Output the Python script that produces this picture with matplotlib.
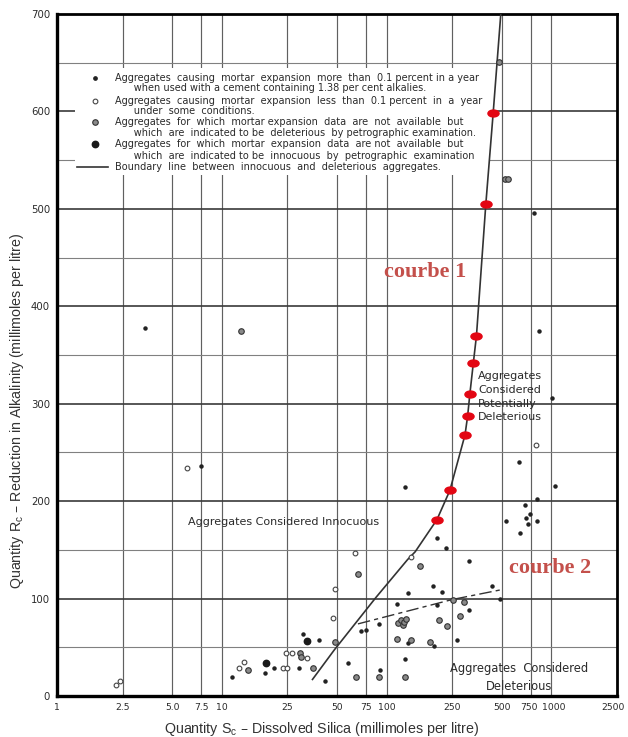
import matplotlib
matplotlib.use("Agg")
import matplotlib.pyplot as plt
from matplotlib.markers import MarkerStyle
from matplotlib.transforms import Affine2D, ScaledTranslation
from matplotlib.ticker import FixedLocator, NullLocator

# ---- data (S = dissolved silica, R = reduction in alkalinity) ----
boundary_s = [35.5, 48, 86, 134, 149, 202, 242, 299, 310, 320, 336, 351, 400, 443, 493]
boundary_r = [17, 47, 101, 140, 148, 181, 211, 268, 287, 310, 342, 370, 505, 598, 700]

red_s = [202, 242, 299, 310, 320, 336, 351, 400, 443]
red_r = [181, 211, 268, 287, 310, 342, 370, 505, 598]

courbe2_s = [67, 250, 494]
courbe2_r = [74, 99, 109]

# aggregates causing expansion > 0.1 % (small filled dots)
del_s = [3.44, 7.5, 11.5, 18.3, 20.6, 29.5, 31.2, 38.9, 42.5, 58.2, 70, 75, 89.5, 91.6,
         116, 135, 129, 134, 194, 192, 217, 201, 201, 228, 318, 318, 268, 438, 486, 129,
         527, 644, 689, 746, 700, 718, 812, 812, 1048, 634, 1010, 838, 786]
del_r = [378, 236, 19, 24, 29, 29, 64, 57, 15, 34, 67, 68, 74, 27,
         94, 106, 38, 54, 51, 113, 107, 93, 162, 152, 139, 88, 57, 113, 100, 215,
         180, 167, 196, 187, 183, 177, 180, 202, 216, 240, 306, 375, 496]

# aggregates causing expansion < 0.1 % (open circles)
inn_s = [2.29, 2.4, 6.13, 12.7, 13.6, 23.6, 24.7, 24.4, 26.5, 33, 47.3, 48.4, 64.3, 141, 801]
inn_r = [11, 15, 234, 29, 35, 29, 29, 44, 44, 39, 80, 110, 147, 143, 258]

# petrographic: deleterious (grey circles)
pdel_s = [13.0, 14.5, 29.8, 30.2, 35.8, 48.8, 67, 65.3, 89.5, 116, 118, 122, 125, 128, 131,
          141, 129, 160, 252, 294, 207, 233, 278, 183, 525, 545, 484]
pdel_r = [375, 27, 44, 40, 29, 55, 125, 20, 19, 58, 75, 78, 73, 76, 79,
          57, 19, 133, 99, 96, 78, 72, 82, 55, 531, 531, 651]

# petrographic: innocuous (large filled dots)
pinn_s = [33.1, 18.6]
pinn_r = [56, 33.5]

xticks = [1, 2.5, 5, 7.5, 10, 25, 50, 75, 100, 250, 500, 750, 1000, 2500]
xtick_labels = ["1", "2.5", "5.0", "7.5", "10", "25", "50", "75", "100", "250", "500",
                "750", "1000", "2500"]
yticks = [0, 100, 200, 300, 400, 500, 600, 700]

legend_lines = [
    "Aggregates  causing  mortar  expansion  more  than  0.1 percent in a year",
    "      when used with a cement containing 1.38 per cent alkalies.",
    "Aggregates  causing  mortar  expansion  less  than  0.1 percent  in  a  year",
    "      under  some  conditions.",
    "Aggregates  for  which  mortar expansion  data  are  not  available  but",
    "      which  are  indicated to be  deleterious  by petrographic examination.",
    "Aggregates  for  which  mortar  expansion  data  are not  available  but",
    "      which  are  indicated to be  innocuous  by  petrographic  examination",
    "Boundary  line  between  innocuous  and  deleterious  aggregates.",
]

ink = "#2a2a2a"
plt.rcParams["font.family"] = ["DejaVu Sans"]

fig = plt.figure(figsize=(6.28, 7.37), dpi=100)
ax = fig.add_axes([57 / 628, 1 - 696 / 737, 560 / 628, 682 / 737])

ax.set_xscale("log")
ax.set_xlim(1, 2500)
ax.set_ylim(0, 700)
ax.xaxis.set_major_locator(FixedLocator(xticks))
ax.xaxis.set_minor_locator(NullLocator())
ax.set_xticklabels(xtick_labels)
ax.set_yticks(yticks)
ax.yaxis.set_minor_locator(FixedLocator(range(50, 700, 100)))
ax.tick_params(which="both", length=0, colors=ink)
ax.tick_params(axis="x", pad=5, labelsize=6.7)
ax.tick_params(axis="y", pad=5, labelsize=7.3)

# nudge crowded x labels apart, keep the last one inside the picture
xlabs = ax.get_xticklabels()
for lab, dx in [(xlabs[-3], -2), (xlabs[-2], 2), (xlabs[-1], -4)]:
    lab.set_transform(lab.get_transform()
                      + ScaledTranslation(dx / 100, 0, fig.dpi_scale_trans))

ax.set_axisbelow(True)
ax.grid(True, axis="x", which="major", color="#606060", lw=0.85)
ax.grid(True, axis="y", which="major", color="#3a3a3a", lw=1.2)
ax.grid(True, axis="y", which="minor", color="#808080", lw=0.8)

for side in ["left", "bottom"]:
    ax.spines[side].set_linewidth(2.4)
for side in ["right", "top"]:
    ax.spines[side].set_linewidth(2.0)

# white panel behind the legend text
ax.add_patch(plt.Rectangle((0.032, 0.764), 0.741, 0.157, transform=ax.transAxes,
                           facecolor="white", edgecolor="none", zorder=1))

# boundary curves
ax.plot(boundary_s, boundary_r, color="#333333", lw=1.2, zorder=3)
ax.plot(courbe2_s, courbe2_r, color="#333333", lw=1.0, dashes=(9, 3, 3, 3), zorder=3)

# data points
ax.plot(del_s, del_r, "o", ms=2.2, color="#222222", zorder=4)
ax.plot(inn_s, inn_r, "o", ms=3.4, mfc="white", mec="#444444", mew=0.8, zorder=4)
ax.plot(pdel_s, pdel_r, "o", ms=4.0, mfc="#8a8a8a", mec="#333333", mew=0.8, zorder=4)
ax.plot(pinn_s, pinn_r, "o", ms=4.6, color="#1a1a1a", zorder=4)

# red points on courbe 1
ellipse = MarkerStyle("o", transform=Affine2D().scale(1.6, 1.0))
ax.plot(red_s, red_r, ls="none", marker=ellipse, ms=5.0, color="#e30613", zorder=5)

# region labels
ax.text(23.6, 179, "Aggregates Considered Innocuous", fontsize=8, color=ink,
        ha="center", va="center", zorder=6)
ax.text(358, 307, "Aggregates\nConsidered\nPotentially\nDeleterious", fontsize=8,
        color=ink, ha="left", va="center", linespacing=1.45, zorder=6)
ax.text(640, 19, "Aggregates  Considered\nDeleterious", fontsize=8.3, color=ink,
        ha="center", va="center", linespacing=1.5, zorder=6)

ax.text(172, 435, "courbe 1", fontsize=16, fontweight="bold", color="#c4504b",
        family="Liberation Serif", ha="center", va="center", zorder=6)
ax.text(986, 131, "courbe 2", fontsize=16, fontweight="bold", color="#c4504b",
        family="Liberation Serif", ha="center", va="center", zorder=6)

# hand-drawn legend (keys + text) in axes coordinates
line_y = [0.9066, 0.8910, 0.8729, 0.8578, 0.8412, 0.8259, 0.8089, 0.7918, 0.7752]
for txt, yy in zip(legend_lines, line_y):
    ax.text(0.1036, yy, txt, transform=ax.transAxes, fontsize=7.0, color=ink,
            ha="left", va="center", zorder=6)
kx = 0.0679
ax.plot([kx], [line_y[0]], "o", ms=2.4, color="#222222", transform=ax.transAxes, zorder=6)
ax.plot([kx], [line_y[2]], "o", ms=3.4, mfc="white", mec="#444444", mew=0.8,
        transform=ax.transAxes, zorder=6)
ax.plot([kx], [line_y[4]], "o", ms=4.0, mfc="#8a8a8a", mec="#333333", mew=0.8,
        transform=ax.transAxes, zorder=6)
ax.plot([kx], [line_y[6]], "o", ms=4.6, color="#1a1a1a", transform=ax.transAxes, zorder=6)
ax.plot([0.0357, 0.0911], [line_y[8], line_y[8]], color="#333333", lw=1.2,
        transform=ax.transAxes, zorder=6)

# axis titles
fig.text(322 / 628, 1 - 729 / 737,
         "Quantity S$_\\mathregular{c}$ \u2013 Dissolved Silica (millimoles per litre)",
         family="Liberation Sans", fontsize=10.3, color="#333333", ha="center", va="center")
fig.text(17 / 628, 1 - 411 / 737,
         "Quantity R$_\\mathregular{c}$ \u2013 Reduction in Alkalinity (millimoles per litre)",
         family="Liberation Sans", fontsize=10.3, color="#333333", ha="center", va="center",
         rotation=90)

fig.savefig("out.png", dpi=100, facecolor="white")
